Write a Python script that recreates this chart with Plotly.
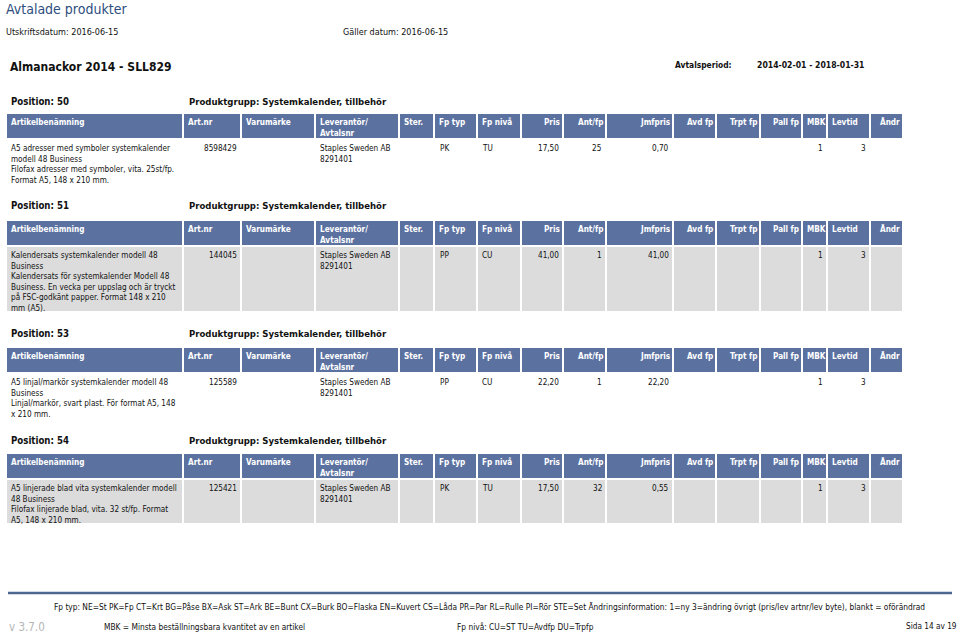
import plotly.graph_objects as go

# Page texts
page_title = "Avtalade produkter"
print_date = "Utskriftsdatum: 2016-06-15"
valid_date = "Gäller datum: 2016-06-15"
contract_name = "Almanackor 2014 - SLL829"
period_label = "Avtalsperiod:"
period_value = "2014-02-01 - 2018-01-31"
product_group = "Produktgrupp: Systemkalender, tillbehör"

# Table columns
columns = ["Artikelbenämning", "Art.nr", "Varumärke", "Leverantör/<br>Avtalsnr", "Ster.", "Fp typ",
           "Fp nivå", "Pris", "Ant/fp", "Jmfpris", "Avd fp", "Trpt fp", "Pall fp", "MBK", "Levtid", "Ändr"]
header_align = ["left", "left", "left", "left", "left", "left", "left", "right", "right", "right",
                "right", "right", "right", "left", "left", "right"]

# Rows (one per position)
positions = [50, 51, 53, 54]
descriptions = [
    ["A5 adresser med symboler systemkalender", "modell 48 Business",
     "Filofax adresser med symboler, vita. 25st/fp.", "Format A5, 148 x 210 mm."],
    ["Kalendersats systemkalender modell 48", "Business", "Kalendersats för systemkalender Modell 48",
     "Business. En vecka per uppslag och är tryckt", "på FSC-godkänt papper. Format 148 x 210", "mm (A5)."],
    ["A5 linjal/markör systemkalender modell 48", "Business",
     "Linjal/markör, svart plast. För format A5, 148", "x 210 mm."],
    ["A5 linjerade blad vita systemkalender modell", "48 Business",
     "Filofax linjerade blad, vita. 32 st/fp. Format", "A5, 148 x 210 mm."],
]
art_nr = ["8598429", "144045", "125589", "125421"]
supplier = ["Staples Sweden AB<br>8291401"] * 4
fp_typ = ["PK", "PP", "PP", "PK"]
fp_niva = ["TU", "CU", "CU", "TU"]
pris = ["17,50", "41,00", "22,20", "17,50"]
ant_fp = ["25", "1", "1", "32"]
jmfpris = ["0,70", "41,00", "22,20", "0,55"]
mbk = ["1", "1", "1", "1"]
levtid = ["3", "3", "3", "3"]

footer_1 = ("Fp typ: NE=St PK=Fp CT=Krt BG=Påse BX=Ask ST=Ark BE=Bunt CX=Burk BO=Flaska EN=Kuvert CS=Låda "
            "PR=Par RL=Rulle PI=Rör STE=Set Ändringsinformation: 1=ny 3=ändring övrigt (pris/lev artnr/lev byte), "
            "blankt = oförändrad")
footer_mbk = "MBK = Minsta beställningsbara kvantitet av en artikel"
footer_niva = "Fp nivå: CU=ST TU=Avdfp DU=Trpfp"
version = "v 3.7.0"
page_no = "Sida 14 av 19"

# Layout (page pixel coordinates)
col_x = [7, 184, 242, 316, 400, 435, 478, 522, 564, 607, 674, 717, 761, 803, 828, 871, 904]
block_label_y = [101, 205, 333, 440]
block_header_top = [114, 221, 348, 454]
block_row_bottom = [190, 311, 425, 523]
shaded = [False, True, False, True]

FONT = "DejaVu Sans Condensed, Tahoma, Liberation Sans, sans-serif"
HEAD_BG = "#5b71a0"
ROW_BG = "#dcdcdc"
TXT = "#111111"
FS = 8.15

fig = go.Figure()
shapes = []
ann = []


def text(x, y, s, size=FS, bold=False, color=TXT, xanchor="left", yanchor="middle"):
    ann.append(dict(x=x, y=y, xref="x", yref="y", text=f"<b>{s}</b>" if bold else s, showarrow=False,
                    xanchor=xanchor, yanchor=yanchor, align=xanchor,
                    font=dict(family=FONT, size=size, color=color), borderpad=0))


# Page header
text(5, 9, page_title, size=14, color="#2d4e7e")
text(5, 32, print_date, size=9)
text(342, 32, valid_date, size=9)
text(9, 67, contract_name, size=12, bold=True)
text(674, 65, period_label, size=8.4, bold=True)
text(756, 65, period_value, size=8.6, bold=True)

for i, pos in enumerate(positions):
    text(10, block_label_y[i], f"Position: {pos}", size=9.6, bold=True)
    text(188, block_label_y[i], product_group, size=9.5, bold=True)

    top = block_header_top[i]
    hbot = top + 24
    for c in range(len(columns)):
        x0, x1 = col_x[c], col_x[c + 1] - 2
        shapes.append(dict(type="rect", xref="x", yref="y", x0=x0, x1=x1, y0=top, y1=hbot,
                           fillcolor=HEAD_BG, line=dict(width=0), layer="below"))
        if shaded[i]:
            shapes.append(dict(type="rect", xref="x", yref="y", x0=x0, x1=x1, y0=hbot + 2,
                               y1=block_row_bottom[i], fillcolor=ROW_BG, line=dict(width=0), layer="below"))
        if header_align[c] == "left":
            text(x0 + 3, top + 2, columns[c], bold=True, color="white", yanchor="top")
        else:
            text(x1 - 1, top + 2, columns[c], bold=True, color="white", xanchor="right", yanchor="top")

    ry = hbot + 4
    text(10, ry, "<br>".join(descriptions[i]), yanchor="top")
    text(col_x[2] - 4, ry, art_nr[i], xanchor="right", yanchor="top")
    text(col_x[3] + 3, ry, supplier[i], yanchor="top")
    text(col_x[5] + 4, ry, fp_typ[i], yanchor="top")
    text(col_x[6] + 3, ry, fp_niva[i], yanchor="top")
    text(col_x[8] - 4, ry, pris[i], xanchor="right", yanchor="top")
    text(col_x[9] - 4, ry, ant_fp[i], xanchor="right", yanchor="top")
    text(col_x[10] - 4, ry, jmfpris[i], xanchor="right", yanchor="top")
    text(col_x[14] - 4, ry, mbk[i], xanchor="right", yanchor="top")
    text(col_x[15] - 4, ry, levtid[i], xanchor="right", yanchor="top")

# Footer
shapes.append(dict(type="line", xref="x", yref="y", x0=8, x1=952, y0=593, y1=593,
                   line=dict(color="#4d6790", width=2.5)))
text(53, 607, footer_1, size=8.3)
text(8, 627, version, size=11.5, color="#b5b5b5")
text(103, 627, footer_mbk, size=8.3)
text(456, 627, footer_niva, size=8.3)
text(905, 626, page_no, size=8.2)

fig.update_layout(
    width=960, height=633,
    margin=dict(l=0, r=0, t=0, b=0),
    paper_bgcolor="white", plot_bgcolor="white",
    xaxis=dict(range=[0, 960], visible=False, fixedrange=True),
    yaxis=dict(range=[633, 0], visible=False, fixedrange=True),
    shapes=shapes, annotations=ann, showlegend=False,
)

# drop the default body margin so the page fills the window exactly
fig.write_html("out.html", config={"displayModeBar": False},
               post_script="document.body.style.margin = '0';")
